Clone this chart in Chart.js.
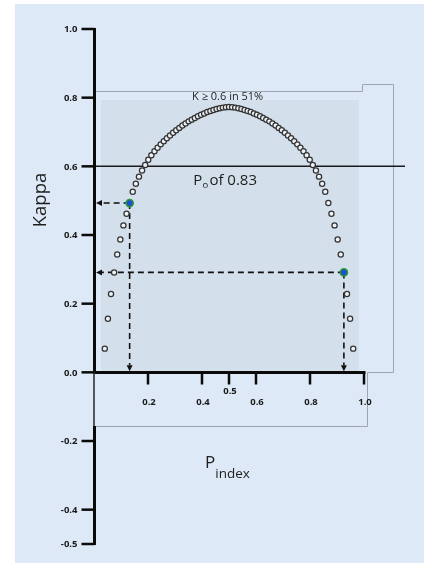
<!DOCTYPE html>
<html>
<head>
<meta charset="utf-8">
<title>Kappa vs Pindex</title>
<script src="https://cdn.jsdelivr.net/npm/chart.js@4.4.0/dist/chart.umd.min.js"></script>
<style>
  html, body { margin: 0; padding: 0; background: #fff; }
  #wrap { width: 424px; height: 563px; }
</style>
</head>
<body>
<div id="wrap"><canvas id="kappaChart" width="424" height="563"></canvas></div>
<script>
// kappa for each prevalence index (observed agreement fixed)
var pIndex = [0.04, 0.0515, 0.063, 0.0745, 0.086, 0.0975, 0.109, 0.1205, 0.132, 0.1435,
  0.155, 0.1665, 0.178, 0.1895, 0.201, 0.2125, 0.224, 0.2355, 0.247, 0.2585,
  0.27, 0.2815, 0.293, 0.3045, 0.316, 0.3275, 0.339, 0.3505, 0.362, 0.3735,
  0.385, 0.3965, 0.408, 0.4195, 0.431, 0.4425, 0.454, 0.4655, 0.477, 0.4885,
  0.5, 0.5115, 0.523, 0.5345, 0.546, 0.5575, 0.569, 0.5805, 0.592, 0.6035,
  0.615, 0.6265, 0.638, 0.6495, 0.661, 0.6725, 0.684, 0.6955, 0.707, 0.7185,
  0.73, 0.7415, 0.753, 0.7645, 0.776, 0.7875, 0.799, 0.8105, 0.822, 0.8335,
  0.845, 0.8565, 0.868, 0.8795, 0.891, 0.9025, 0.914, 0.9255, 0.937, 0.9485, 0.96];

var kappa = [0.069, 0.156, 0.228, 0.291, 0.343, 0.387, 0.428, 0.462, 0.493, 0.526,
  0.549, 0.570, 0.588, 0.604, 0.619, 0.632, 0.644, 0.654, 0.664, 0.673,
  0.682, 0.690, 0.698, 0.705, 0.712, 0.719, 0.725, 0.731, 0.736, 0.741,
  0.746, 0.750, 0.754, 0.758, 0.761, 0.764, 0.767, 0.769, 0.771, 0.772,
  0.773, 0.772, 0.771, 0.769, 0.767, 0.764, 0.761, 0.758, 0.754, 0.750,
  0.746, 0.741, 0.736, 0.731, 0.725, 0.719, 0.712, 0.705, 0.698, 0.690,
  0.682, 0.673, 0.664, 0.654, 0.644, 0.632, 0.619, 0.604, 0.588, 0.570,
  0.549, 0.526, 0.493, 0.462, 0.428, 0.387, 0.343, 0.291, 0.228, 0.156, 0.069];

// the two highlighted cases
var markedP = [0.132, 0.9255];
var markedKappa = [0.493, 0.291];

var yTicks = [1.0, 0.8, 0.6, 0.4, 0.2, 0.0, -0.2, -0.4, -0.5];
var yTickLabels = ['1.0', '0.8', '0.6', '0.4', '0.2', '0.0', '-0.2', '-0.4', '-0.5'];
var xTicks = [0.2, 0.4, 0.5, 0.6, 0.8, 1.0];
var xTickLabels = ['0.2', '0.4', '0.5', '0.6', '0.8', '1.0'];
var kappaCut = 0.6;

var FONT = '"Open Sans", "DejaVu Sans", sans-serif';

function arrowHead(ctx, x, y, dir) {
  ctx.beginPath();
  if (dir === 'left') {
    ctx.moveTo(x, y); ctx.lineTo(x + 6, y - 3); ctx.lineTo(x + 6, y + 3);
  } else {
    ctx.moveTo(x, y); ctx.lineTo(x - 3, y - 6); ctx.lineTo(x + 3, y - 6);
  }
  ctx.closePath();
  ctx.fill();
}

var backdrop = {
  id: 'backdrop',
  beforeDraw: function (chart) {
    var ctx = chart.ctx, xs = chart.scales.x, ys = chart.scales.y;
    ctx.save();
    ctx.fillStyle = '#ffffff';
    ctx.fillRect(0, 0, chart.width, chart.height);
    ctx.fillStyle = '#dde9f6';
    ctx.fillRect(15, 4, chart.width - 15, chart.height - 4);

    // shaded block behind the curve
    var l = xs.getPixelForValue(0.026), r = xs.getPixelForValue(0.981);
    var t = ys.getPixelForValue(0.793), b = ys.getPixelForValue(0);
    ctx.fillStyle = '#d3dfeb';
    ctx.fillRect(l, t, r - l, b - t);

    // thin frame with the notch on the right
    ctx.strokeStyle = '#9ca6b1';
    ctx.lineWidth = 1;
    ctx.beginPath();
    ctx.moveTo(xs.getPixelForValue(0.005), Math.round(ys.getPixelForValue(0.82)) + 0.5);
    ctx.lineTo(Math.round(xs.getPixelForValue(0.993)) + 0.5, Math.round(ys.getPixelForValue(0.82)) + 0.5);
    ctx.lineTo(Math.round(xs.getPixelForValue(0.993)) + 0.5, Math.round(ys.getPixelForValue(0.84)) + 0.5);
    ctx.lineTo(Math.round(xs.getPixelForValue(1.107)) + 0.5, Math.round(ys.getPixelForValue(0.84)) + 0.5);
    ctx.lineTo(Math.round(xs.getPixelForValue(1.107)) + 0.5, Math.round(ys.getPixelForValue(0)) + 0.5);
    ctx.lineTo(Math.round(xs.getPixelForValue(1.011)) + 0.5, Math.round(ys.getPixelForValue(0)) + 0.5);
    ctx.lineTo(Math.round(xs.getPixelForValue(1.011)) + 0.5, Math.round(ys.getPixelForValue(-0.156)) + 0.5);
    ctx.lineTo(xs.getPixelForValue(0), Math.round(ys.getPixelForValue(-0.156)) + 0.5);
    ctx.stroke();

    // kappa = 0.6 reference line
    var yc = ys.getPixelForValue(kappaCut);
    ctx.strokeStyle = '#1a1a1a';
    ctx.lineWidth = 1.5;
    ctx.beginPath();
    ctx.moveTo(xs.getPixelForValue(0), yc);
    ctx.lineTo(xs.getPixelForValue(1.152), yc);
    ctx.stroke();
    ctx.restore();
  },
  beforeDatasetsDraw: function (chart) {
    var ctx = chart.ctx, xs = chart.scales.x, ys = chart.scales.y;
    var x0 = xs.getPixelForValue(0), y0 = ys.getPixelForValue(0);
    ctx.save();
    ctx.strokeStyle = '#111';
    ctx.fillStyle = '#111';
    ctx.lineWidth = 1.6;
    for (var i = 0; i < markedP.length; i++) {
      var px = xs.getPixelForValue(markedP[i]);
      var py = ys.getPixelForValue(markedKappa[i]);
      ctx.setLineDash([6, 4]);
      ctx.beginPath();
      ctx.moveTo(px, py); ctx.lineTo(x0 + 7, py);
      ctx.moveTo(px, py); ctx.lineTo(px, y0 - 7);
      ctx.stroke();
      ctx.setLineDash([]);
      arrowHead(ctx, x0 + 2, py, 'left');
      arrowHead(ctx, px, y0 - 1, 'down');
    }
    ctx.restore();
  },
  afterDraw: function (chart) {
    var ctx = chart.ctx, xs = chart.scales.x, ys = chart.scales.y;
    var x0 = Math.round(xs.getPixelForValue(0)) + 0.5;
    var y0 = Math.round(ys.getPixelForValue(0)) + 0.5;
    var yBoxBottom = ys.getPixelForValue(-0.156);
    ctx.save();
    ctx.strokeStyle = '#0a0a0a';
    ctx.fillStyle = '#1a1a1a';

    // vertical axis, thin where the frame overlaps it
    ctx.lineWidth = 3;
    ctx.beginPath();
    ctx.moveTo(x0, ys.getPixelForValue(1.0) - 1);
    ctx.lineTo(x0, y0);
    ctx.moveTo(x0, yBoxBottom);
    ctx.lineTo(x0, ys.getPixelForValue(-0.5) + 1);
    ctx.stroke();
    ctx.lineWidth = 1.3;
    ctx.beginPath();
    ctx.moveTo(x0 - 0.5, y0);
    ctx.lineTo(x0 - 0.5, yBoxBottom);
    ctx.stroke();

    // horizontal axis at kappa = 0
    ctx.lineWidth = 3;
    ctx.beginPath();
    ctx.moveTo(x0, y0);
    ctx.lineTo(xs.getPixelForValue(1.0) + 1.5, y0);
    ctx.stroke();

    // y ticks and labels
    ctx.font = 'bold 9.5px ' + FONT;
    ctx.textAlign = 'right';
    ctx.textBaseline = 'middle';
    ctx.lineWidth = 2.5;
    yTicks.forEach(function (v, i) {
      var py = ys.getPixelForValue(v);
      ctx.beginPath();
      ctx.moveTo(x0 - 13, py);
      ctx.lineTo(x0, py);
      ctx.stroke();
      ctx.fillText(yTickLabels[i], x0 - 17, py + 0.5);
    });

    // x ticks and labels
    ctx.textAlign = 'center';
    xTicks.forEach(function (v, i) {
      var px = xs.getPixelForValue(v);
      ctx.beginPath();
      ctx.moveTo(px, y0);
      ctx.lineTo(px, y0 + 12);
      ctx.stroke();
      var off = v === 0.5 ? 19 : 30;
      ctx.fillText(xTickLabels[i], px + 1, y0 + off);
    });

    // annotations
    ctx.fillStyle = '#1e1e1e';
    ctx.textBaseline = 'alphabetic';
    ctx.font = '11px ' + FONT;
    ctx.textAlign = 'center';
    ctx.fillText('K \u2265 0.6 in 51%', xs.getPixelForValue(0.495), ys.getPixelForValue(0.794));

    ctx.textAlign = 'left';
    var ax = xs.getPixelForValue(0.368), ay = ys.getPixelForValue(0.546);
    ctx.font = '15px ' + FONT;
    ctx.fillText('P', ax, ay);
    var w = ctx.measureText('P').width;
    ctx.font = '9.5px ' + FONT;
    ctx.fillText('o', ax + w, ay + 3);
    ctx.font = '15px ' + FONT;
    ctx.fillText('of 0.83', ax + w + 7, ay);

    // axis titles
    ctx.font = '17px ' + FONT;
    ctx.fillText('P', 205, 468);
    var wp = ctx.measureText('P').width;
    ctx.font = '13.5px ' + FONT;
    ctx.fillText('index', 205 + wp, 478);

    ctx.save();
    ctx.translate(46, 200);
    ctx.rotate(-Math.PI / 2);
    ctx.textAlign = 'center';
    ctx.font = '18.5px ' + FONT;
    ctx.fillText('Kappa', 0, 0);
    ctx.restore();

    ctx.restore();
  }
};

var curvePoints = pIndex.map(function (p, i) { return { x: p, y: kappa[i] }; });
var markedPoints = markedP.map(function (p, i) { return { x: p, y: markedKappa[i] }; });

new Chart(document.getElementById('kappaChart'), {
  type: 'scatter',
  data: {
    datasets: [{
      label: 'kappa',
      data: curvePoints,
      pointRadius: 2.6,
      pointBorderWidth: 1.25,
      pointBorderColor: '#333333',
      pointBackgroundColor: '#eef2f6',
      clip: false,
      order: 2
    }, {
      label: 'marked',
      data: markedPoints,
      pointRadius: 3.6,
      pointBorderWidth: 1.6,
      pointBorderColor: '#2a9a3c',
      pointBackgroundColor: '#1d4fcf',
      clip: false,
      order: 1
    }]
  },
  options: {
    responsive: false,
    animation: false,
    events: [],
    layout: { padding: { left: 94, right: 60, top: 29, bottom: 19 } },
    scales: {
      x: { type: 'linear', min: 0, max: 1, display: false },
      y: { type: 'linear', min: -0.5, max: 1, display: false }
    },
    plugins: { legend: { display: false }, tooltip: { enabled: false } }
  },
  plugins: [backdrop]
});
</script>
</body>
</html>
